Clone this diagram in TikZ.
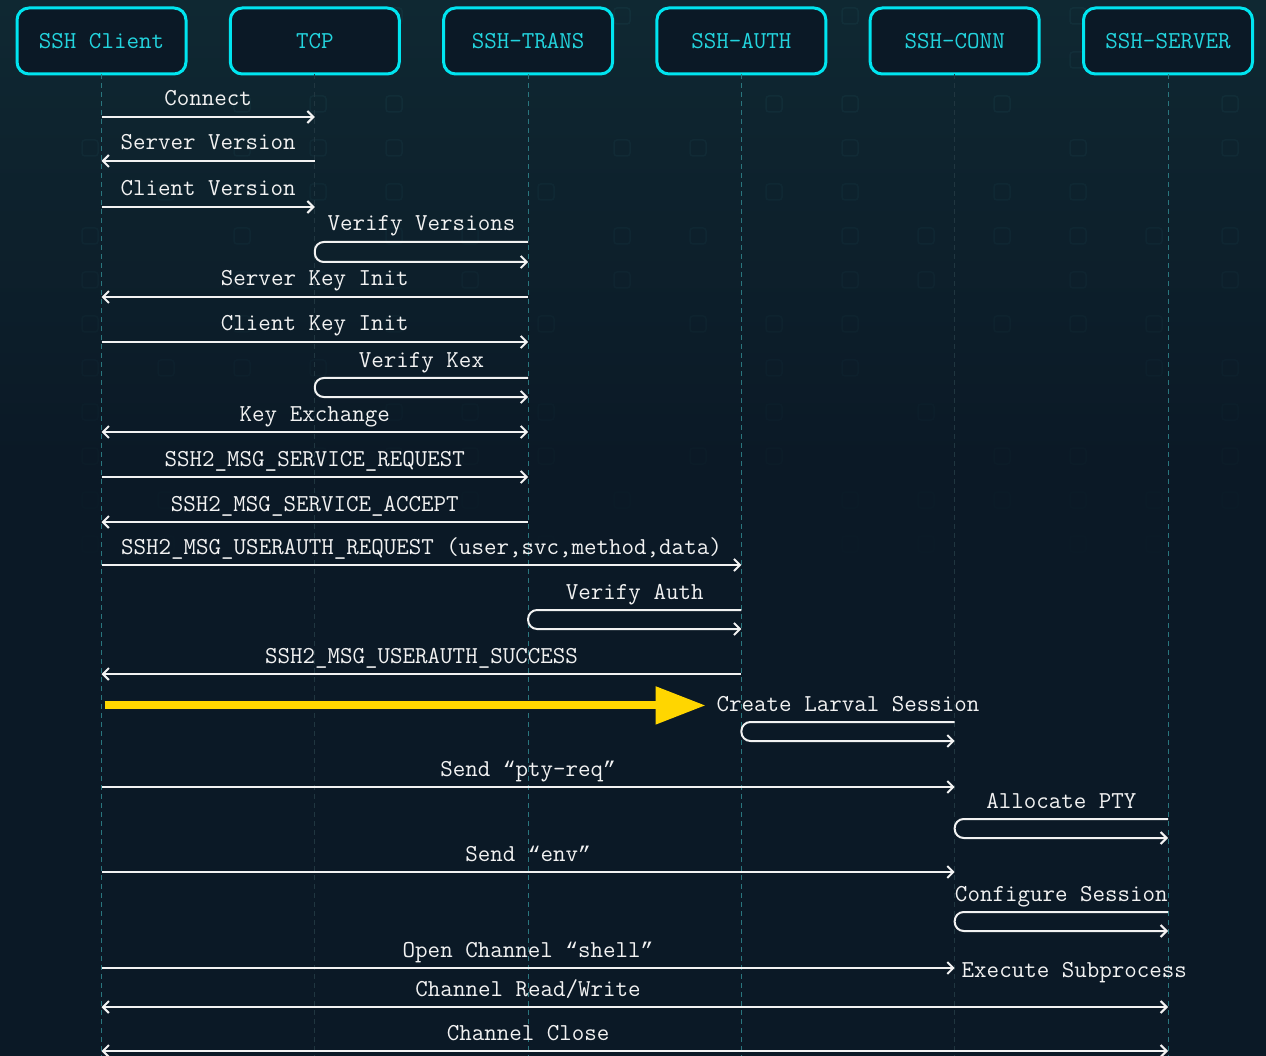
\documentclass[tikz,border=0pt]{standalone}
\usepackage{fontspec}
\usepackage{tikz}
\usetikzlibrary{positioning, arrows.meta}
\newfontfamily\quotefont[Scale=0.875]{Liberation Mono}
\definecolor{bgdark}{RGB}{11,25,38}
\definecolor{bgtop}{RGB}{15,40,50}
\definecolor{boxcyan}{RGB}{0,229,240}
\definecolor{headtext}{RGB}{35,212,222}
\definecolor{lifeteal}{RGB}{42,118,126}
\definecolor{lifedim}{RGB}{32,54,64}
\definecolor{sqteal}{RGB}{45,110,120}
\definecolor{hiyellow}{RGB}{255,214,0}
\definecolor{msgwhite}{RGB}{242,242,242}
\def\msgfont{\ttfamily\fontsize{24.3}{28}\selectfont}
\def\oquote{{\quotefont “}}
\def\cquote{{\quotefont ”}}
\tikzset{barb/.tip={Straight Barb[length=6pt,width=12pt]}}

\begin{document}
\begin{tikzpicture}[x=1pt, y=-1pt,
	actor/.style={rectangle, draw=boxcyan, line width=3pt, rounded corners=12pt, fill=bgdark, minimum width=169pt, minimum height=66pt, outer sep=0pt, text=headtext, font=\msgfont},
	lifeline/.style={draw=lifeteal, line width=1pt, dash pattern=on 5pt off 4pt},
	lifedimline/.style={lifeline, draw=lifedim},
	msgline/.style={draw=msgwhite, line width=2pt, -barb},
	backline/.style={draw=msgwhite, line width=2pt, barb-},
	bothline/.style={draw=msgwhite, line width=2pt, barb-barb},
	lbl/.style={text=msgwhite, font=\msgfont, inner sep=0pt, text depth=0pt, above=10pt},
	exec/.style={text=msgwhite, font=\msgfont, inner sep=0pt, anchor=base west, xshift=6pt, yshift=-9pt},
	hilite/.style={draw=hiyellow, line width=8pt, -{Triangle[length=50pt,width=36pt]}},
	sq/.style={draw=sqteal, line width=1.5pt, rounded corners=3pt},
	]
		%Background
		\fill[bgdark] (0,0) rectangle (1266,1056);
		\shade[top color=bgtop, bottom color=bgdark] (0,0) rectangle (1266,460);
		\pgfmathsetseed{7}
		\foreach \cx in {90,166,...,1230} {
			\foreach \cy in {16,60,...,600} {
				\pgfmathsetmacro\op{max(0,0.13*(1-\cy/620))*(rnd>0.35)}
				\draw[sq, opacity=\op] (\cx-8,\cy-8) rectangle ++(16,16);
			}
		}
		\useasboundingbox (0,0) rectangle (1266,1056);

		%Actors
		\node[actor]        (client)                          at (101.5,41) {SSH Client};
		\node[actor]        (tcp)     [right=44.3pt of client]              {TCP};
		\node[actor]        (trans)   [right=44.3pt of tcp]                 {SSH-TRANS};
		\node[actor]        (auth)    [right=44.3pt of trans]               {SSH-AUTH};
		\node[actor]        (conn)    [right=44.3pt of auth]                {SSH-CONN};
		\node[actor]        (server)  [right=44.3pt of conn]                {SSH-SERVER};

		%Rows
		\coordinate (bottom)  at (0,1056);
		\coordinate (connect) at (0,117);
		\coordinate (srvver)  at (0,161);
		\coordinate (cliver)  at (0,207);
		\coordinate (vver)    at (0,242);
		\coordinate (vverb)   at (0,262);
		\coordinate (skinit)  at (0,297);
		\coordinate (ckinit)  at (0,342);
		\coordinate (vkex)    at (0,378);
		\coordinate (vkexb)   at (0,397);
		\coordinate (kex)     at (0,432);
		\coordinate (svcreq)  at (0,477);
		\coordinate (svcacc)  at (0,522);
		\coordinate (uareq)   at (0,565);
		\coordinate (vauth)   at (0,610);
		\coordinate (vauthb)  at (0,629);
		\coordinate (uasucc)  at (0,674);
		\coordinate (larv)    at (0,722);
		\coordinate (larvb)   at (0,741);
		\coordinate (ptyreq)  at (0,787);
		\coordinate (alloc)   at (0,819);
		\coordinate (allocb)  at (0,838);
		\coordinate (env)     at (0,872);
		\coordinate (conf)    at (0,912);
		\coordinate (confb)   at (0,931);
		\coordinate (shell)   at (0,968);
		\coordinate (rw)      at (0,1007);
		\coordinate (close)   at (0,1051);

		%Lifelines
		\draw[lifeline]    (client.south) -- (client |- bottom);
		\draw[lifedimline] (tcp.south)    -- (tcp |- bottom);
		\draw[lifeline]    (trans.south)  -- (trans |- bottom);
		\draw[lifeline]    (auth.south)   -- (auth |- bottom);
		\draw[lifedimline] (conn.south)   -- (conn |- bottom);
		\draw[lifeline]    (server.south) -- (server |- bottom);

		%Messages
		\draw[msgline]  (client |- connect) -- node[lbl] {Connect} (tcp |- connect);
		\draw[backline] (client |- srvver)  -- node[lbl] {Server Version} (tcp |- srvver);
		\draw[msgline]  (client |- cliver)  -- node[lbl] {Client Version} (tcp |- cliver);
		\draw[msgline, rounded corners=9pt] (trans |- vver) -- node[lbl] {Verify Versions} (tcp |- vver) -- (tcp |- vverb) -- (trans |- vverb);
		\draw[backline] (client |- skinit)  -- node[lbl] {Server Key Init} (trans |- skinit);
		\draw[msgline]  (client |- ckinit)  -- node[lbl] {Client Key Init} (trans |- ckinit);
		\draw[msgline, rounded corners=9pt] (trans |- vkex) -- node[lbl] {Verify Kex} (tcp |- vkex) -- (tcp |- vkexb) -- (trans |- vkexb);
		\draw[bothline] (client |- kex)     -- node[lbl] {Key Exchange} (trans |- kex);
		\draw[msgline]  (client |- svcreq)  -- node[lbl] {SSH2\_MSG\_SERVICE\_REQUEST} (trans |- svcreq);
		\draw[backline] (client |- svcacc)  -- node[lbl] {SSH2\_MSG\_SERVICE\_ACCEPT} (trans |- svcacc);
		\draw[msgline]  (client |- uareq)   -- node[lbl] {SSH2\_MSG\_USERAUTH\_REQUEST (user,svc,method,data)} (auth |- uareq);
		\draw[msgline, rounded corners=9pt] (auth |- vauth) -- node[lbl] {Verify Auth} (trans |- vauth) -- (trans |- vauthb) -- (auth |- vauthb);
		\draw[backline] (client |- uasucc)  -- node[lbl] {SSH2\_MSG\_USERAUTH\_SUCCESS} (auth |- uasucc);
		\draw[msgline, rounded corners=9pt] (conn |- larv) -- node[lbl] (larval) {Create Larval Session} (auth |- larv) -- (auth |- larvb) -- (conn |- larvb);
		\draw[hilite]   ([xshift=3pt,yshift=-2pt]client |- larval.west) -- ([xshift=-10pt,yshift=-2pt]larval.west);
		\draw[msgline]  (client |- ptyreq)  -- node[lbl] {Send \oquote pty-req\cquote} (conn |- ptyreq);
		\draw[msgline, rounded corners=9pt] (server |- alloc) -- node[lbl] {Allocate PTY} (conn |- alloc) -- (conn |- allocb) -- (server |- allocb);
		\draw[msgline]  (client |- env)     -- node[lbl] {Send \oquote env\cquote} (conn |- env);
		\draw[msgline, rounded corners=9pt] (server |- conf) -- node[lbl] {Configure Session} (conn |- conf) -- (conn |- confb) -- (server |- confb);
		\draw[msgline]  (client |- shell)   -- node[lbl] {Open Channel \oquote shell\cquote} (conn |- shell) node[exec] {Execute Subprocess};
		\draw[bothline] (client |- rw)      -- node[lbl, pos=0.4] {Channel Read/Write} (server |- rw);
		\draw[bothline] (client |- close)   -- node[lbl, pos=0.4] {Channel Close} (server |- close);
	\end{tikzpicture}
\end{document}
